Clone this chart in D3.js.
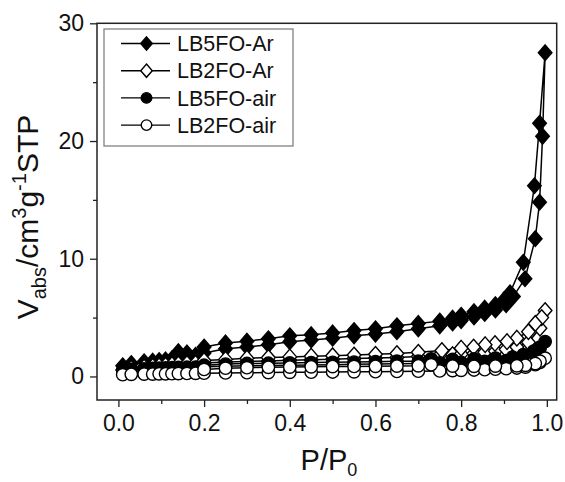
<!DOCTYPE html>
<html>
<head>
<meta charset="utf-8">
<script src="https://cdn.jsdelivr.net/npm/d3@7"></script>
<style>
  html, body { margin: 0; padding: 0; background: #fff; }
  svg { display: block; font-family: "Liberation Sans", Arial, sans-serif; }
</style>
</head>
<body>
<svg id="chart" width="565" height="482"></svg>
<script>
// Relative pressure grid shared by the low/mid range of every isotherm
const pGrid = [0.01, 0.03, 0.06, 0.08, 0.095, 0.11, 0.125, 0.14, 0.16, 0.18, 0.20,
  0.25, 0.30, 0.35, 0.40, 0.45, 0.50, 0.55, 0.60, 0.65, 0.70, 0.75,
  0.78, 0.80, 0.83, 0.855, 0.88, 0.905];

// LB5FO-Ar (filled diamonds)
const lb5ArAdsP = pGrid.concat([0.922, 0.949, 0.973, 0.983, 0.99, 0.996]);
const lb5ArAdsV = [0.9, 1.1, 1.25, 1.3, 1.35, 1.4, 1.5, 1.6, 1.7, 1.8, 2.0,
  2.35, 2.5, 2.7, 2.95, 3.1, 3.25, 3.45, 3.6, 3.8, 4.05, 4.3,
  4.55, 4.75, 5.05, 5.35, 5.65, 6.1,
  6.8, 8.3, 11.7, 14.8, 20.4, 27.5];
const lb5ArDesP = [0.983, 0.971, 0.945, 0.914, 0.90, 0.88, 0.855, 0.83, 0.80, 0.78, 0.75,
  0.70, 0.65, 0.60, 0.55, 0.50, 0.45, 0.40, 0.35, 0.30, 0.25, 0.20, 0.16, 0.14];
const lb5ArDesV = [21.5, 16.2, 9.7, 7.1, 6.5, 6.1, 5.8, 5.5, 5.2, 4.95, 4.7,
  4.5, 4.3, 4.05, 3.9, 3.7, 3.55, 3.45, 3.2, 3.0, 2.85, 2.5, 2.0, 2.1];

// LB2FO-Ar (open diamonds)
const lb2ArAdsP = pGrid.concat([0.93, 0.957, 0.984, 0.996]);
const lb2ArAdsV = [0.55, 0.7, 0.8, 0.85, 0.9, 0.95, 1.0, 1.05, 1.1, 1.12, 1.15,
  1.22, 1.28, 1.32, 1.38, 1.42, 1.47, 1.52, 1.57, 1.62, 1.7, 1.8,
  1.85, 1.9, 1.95, 2.05, 2.15, 2.3,
  2.5, 2.9, 4.1, 5.6];
const lb2ArDesP = [0.988, 0.973, 0.957, 0.93, 0.907, 0.879, 0.856, 0.829, 0.80, 0.755,
  0.70, 0.65, 0.60, 0.55, 0.50, 0.45, 0.40, 0.35, 0.30, 0.25, 0.20];
const lb2ArDesV = [5.0, 4.5, 3.8, 3.25, 2.96, 2.8, 2.7, 2.5, 2.4, 2.2,
  2.05, 1.95, 1.88, 1.82, 1.76, 1.72, 1.66, 1.6, 1.55, 1.45, 1.35];

// LB5FO-air (filled circles)
const lb5AirAdsP = pGrid.concat([0.93, 0.945, 0.969, 0.984, 0.996]);
const lb5AirAdsV = [0.55, 0.6, 0.65, 0.68, 0.7, 0.72, 0.74, 0.76, 0.78, 0.8, 0.82,
  0.86, 0.9, 0.93, 0.96, 0.98, 1.0, 1.03, 1.05, 1.08, 1.1, 1.15,
  1.18, 1.2, 1.23, 1.27, 1.3, 1.35,
  1.5, 1.7, 2.0, 2.4, 2.96];
const lb5AirDesP = [0.984, 0.969, 0.945, 0.92, 0.88, 0.83, 0.78, 0.73, 0.70, 0.65,
  0.60, 0.55, 0.50, 0.45, 0.40, 0.35, 0.30, 0.25, 0.20];
const lb5AirDesV = [2.5, 2.15, 1.85, 1.65, 1.55, 1.5, 1.45, 1.5, 1.3, 1.3,
  1.25, 1.22, 1.2, 1.18, 1.15, 1.12, 1.1, 1.05, 0.95];

// LB2FO-air (open circles)
const lb2AirAdsP = pGrid.concat([0.93, 0.95, 0.973, 0.984, 0.996]);
const lb2AirAdsV = [0.15, 0.18, 0.2, 0.2, 0.22, 0.22, 0.24, 0.25, 0.26, 0.27, 0.28,
  0.3, 0.32, 0.33, 0.35, 0.36, 0.38, 0.4, 0.41, 0.43, 0.45, 0.47,
  0.5, 0.52, 0.55, 0.58, 0.62, 0.66,
  0.72, 0.8, 1.0, 1.2, 1.55];
const lb2AirDesP = [0.984, 0.973, 0.95, 0.93, 0.88, 0.83, 0.78, 0.73, 0.70, 0.65,
  0.60, 0.55, 0.50, 0.45, 0.40, 0.35, 0.30, 0.25, 0.20];
const lb2AirDesV = [1.3, 1.1, 0.95, 0.9, 0.88, 0.86, 0.88, 1.0, 0.9, 0.88,
  0.86, 0.85, 0.84, 0.82, 0.8, 0.78, 0.75, 0.7, 0.6];

const seriesNames = ["LB5FO-Ar", "LB2FO-Ar", "LB5FO-air", "LB2FO-air"];
const xMajorTicks = [0, 0.2, 0.4, 0.6, 0.8, 1.0];
const xMinorTicks = [0.1, 0.3, 0.5, 0.7, 0.9];
const yMajorTicks = [0, 10, 20, 30];
const yMinorTicks = [5, 15, 25];

function zip(ps, vs) { return ps.map((p, i) => ({ p: p, v: vs[i] })); }

const series = [
  { name: seriesNames[0], shape: "diamond", filled: true,
    ads: zip(lb5ArAdsP, lb5ArAdsV), des: zip(lb5ArDesP, lb5ArDesV) },
  { name: seriesNames[1], shape: "diamond", filled: false,
    ads: zip(lb2ArAdsP, lb2ArAdsV), des: zip(lb2ArDesP, lb2ArDesV) },
  { name: seriesNames[2], shape: "circle", filled: true,
    ads: zip(lb5AirAdsP, lb5AirAdsV), des: zip(lb5AirDesP, lb5AirDesV) },
  { name: seriesNames[3], shape: "circle", filled: false,
    ads: zip(lb2AirAdsP, lb2AirAdsV), des: zip(lb2AirDesP, lb2AirDesV) }
];

const W = 565, H = 482;
const margin = { left: 97, top: 23.3, right: 8.3, bottom: 82 };
const plotW = W - margin.left - margin.right;
const plotH = H - margin.top - margin.bottom;

const x = d3.scaleLinear().domain([-0.05, 1.023]).range([0, plotW]);
const y = d3.scaleLinear().domain([-2, 30]).range([plotH, 0]);

const svg = d3.select("#chart");
const g = svg.append("g").attr("transform", `translate(${margin.left},${margin.top})`);

// Marker shapes
function diamondPath(s) {
  const hw = 6.8 * s, hh = 7.8 * s;
  return `M0,${-hh}L${hw},0L0,${hh}L${-hw},0Z`;
}
function drawMarker(sel, shape, filled, s) {
  if (shape === "diamond") {
    sel.append("path").attr("d", diamondPath(s));
  } else {
    sel.append("circle").attr("r", 6.2 * s);
  }
  sel.selectAll("path,circle")
    .attr("fill", filled ? "#000" : "#fff")
    .attr("stroke", "#000")
    .attr("stroke-width", 1.4);
}

const line = d3.line().x(d => x(d.p)).y(d => y(d.v));

const plot = g.append("g");
series.forEach(s => {
  const loop = s.ads.concat(s.des);
  plot.append("path")
    .attr("d", line(loop))
    .attr("fill", "none")
    .attr("stroke", "#000")
    .attr("stroke-width", 1.5);
  const pts = plot.append("g").selectAll("g").data(loop).join("g")
    .attr("transform", d => `translate(${x(d.p)},${y(d.v)})`);
  pts.each(function () { drawMarker(d3.select(this), s.shape, s.filled, 1); });
});

// Axes
const axisColor = "#222";
const fontSize = 23;

g.append("g").attr("transform", `translate(0,${plotH})`)
  .call(d3.axisBottom(x).tickValues(xMajorTicks).tickSize(7).tickPadding(8)
    .tickFormat(d3.format(".1f")));
g.append("g").attr("transform", `translate(0,${plotH})`)
  .call(d3.axisBottom(x).tickValues(xMinorTicks).tickSize(4).tickFormat(""));
g.append("g")
  .call(d3.axisLeft(y).tickValues(yMajorTicks).tickSize(7).tickPadding(6)
    .tickFormat(d3.format("d")));
g.append("g")
  .call(d3.axisLeft(y).tickValues(yMinorTicks).tickSize(4).tickFormat(""));

g.selectAll(".domain").remove();
g.selectAll(".tick line").attr("stroke", axisColor).attr("stroke-width", 1.3);
g.selectAll(".tick text").attr("fill", "#111").style("font-size", fontSize + "px")
  .style("font-family", "'Liberation Sans', Arial, sans-serif");

// Plot frame
g.append("rect").attr("x", 0).attr("y", 0).attr("width", plotW).attr("height", plotH)
  .attr("fill", "none").attr("stroke", axisColor).attr("stroke-width", 1.5);

// Legend
const legend = g.append("g").attr("transform", `translate(${104 - margin.left},${29 - margin.top})`);
legend.append("rect").attr("width", 189).attr("height", 117)
  .attr("fill", "#fff").attr("stroke", "#777").attr("stroke-width", 1.2);
series.forEach((s, i) => {
  const row = legend.append("g").attr("transform", `translate(0,${14.5 + i * 27.2})`);
  row.append("line").attr("x1", 17).attr("x2", 66).attr("y1", 0).attr("y2", 0)
    .attr("stroke", "#000").attr("stroke-width", 1.4);
  const m = row.append("g").attr("transform", "translate(42.5,0)");
  drawMarker(m, s.shape, s.filled, 0.85);
  row.append("text").attr("x", 73).attr("y", 0).attr("dy", "0.36em")
    .style("font-size", "21.5px").attr("fill", "#111").text(s.name);
});

// Axis titles
const xt = svg.append("text").attr("x", 329).attr("y", 470)
  .attr("text-anchor", "middle").style("font-size", "29px").attr("fill", "#111");
xt.append("tspan").text("P/P");
xt.append("tspan").attr("dy", 6).style("font-size", "18px").text("0");

const yt = svg.append("text")
  .attr("transform", "translate(38,217) rotate(-90)")
  .attr("text-anchor", "middle").style("font-size", "30px").attr("fill", "#111");
yt.append("tspan").text("V");
yt.append("tspan").attr("dy", 8).style("font-size", "20px").text("abs");
yt.append("tspan").attr("dy", -8).text("/cm");
yt.append("tspan").attr("dy", -12).style("font-size", "20px").text("3");
yt.append("tspan").attr("dy", 12).text("g");
yt.append("tspan").attr("dy", -12).style("font-size", "20px").text("-1");
yt.append("tspan").attr("dy", 12).text("STP");
</script>
</body>
</html>
